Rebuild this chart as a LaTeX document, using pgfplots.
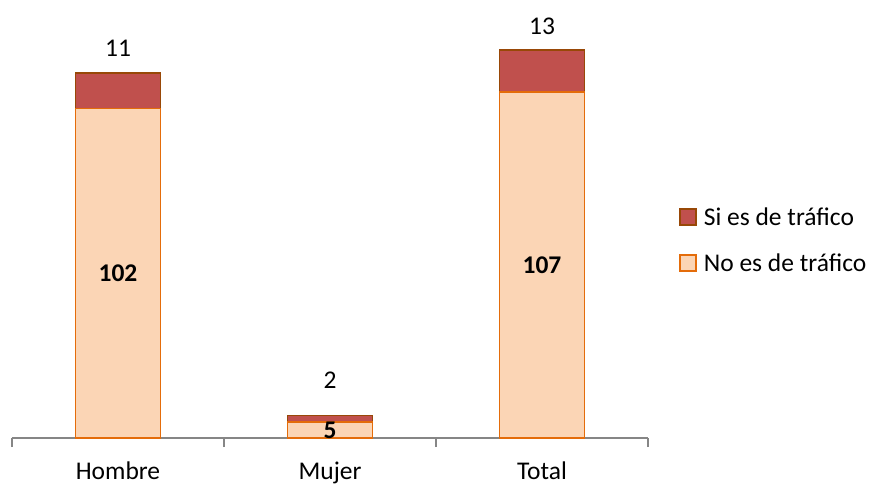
\documentclass[border=0pt]{standalone}
\usepackage{pgfplots}
\pgfplotsset{compat=1.18}
\usepackage{pgfplotstable}
\usepackage{fontspec}
\setmainfont{Carlito}
\usetikzlibrary{calc}

\definecolor{siFill}{HTML}{C0504D}
\definecolor{siLine}{HTML}{984807}
\definecolor{noFill}{HTML}{FBD5B5}
\definecolor{noLine}{HTML}{E46C0A}
\definecolor{ejeGris}{HTML}{868686}

\newcommand\chartfont{\fontsize{25.5}{30}\selectfont}

% x: categoria, no/si: casos, off: desplazamiento de la etiqueta superior
\pgfplotstableread{
x no si off
0 102 11 16
1 5 2 27
2 107 13 16
}\datos

\begin{document}
\begin{tikzpicture}
\begin{axis}[
    name=ax,
    scale only axis,
    width=636pt, height=404pt,
    xmin=-0.5, xmax=2.5,
    ymin=0, ymax=125,
    ybar stacked,
    bar width=85pt,
    axis x line*=bottom,
    axis y line=none,
    xtick={0,1,2},
    xticklabels={Hombre,Mujer,Total},
    minor xtick={-0.5,0.5,1.5,2.5},
    major tick length=0pt,
    minor tick length=9pt,
    tick align=outside,
    x axis line style={draw=ejeGris, line width=1.5pt},
    minor tick style={draw=ejeGris, line width=1.5pt},
    xticklabel style={font=\chartfont, anchor=base, yshift=-41pt},
    clip=false,
    legend reversed,
    legend style={at={(1.049,0.49)}, anchor=west, draw=none, fill=none,
        font=\chartfont, row sep=27pt, inner sep=0pt,
        nodes={inner sep=0pt, inner xsep=7pt, anchor=west}},
    legend cell align=left,
    legend image code/.code={\draw[#1, line width=1.5pt] (0pt,-8pt) rectangle (16pt,8pt);},
]
% las etiquetas de barras apiladas quedan centradas en su tramo
\addplot[fill=noFill, draw=noLine, line width=1.5pt,
    point meta=explicit symbolic,
    nodes near coords,
    every node near coord/.append style={font=\chartfont\bfseries, anchor=center},
] table[x=x, y=no, meta=no] {\datos};
\addlegendentry{No es de tráfico}
\addplot[fill=siFill, draw=siLine, line width=1.5pt,
    point meta=explicit symbolic,
    nodes near coords,
    visualization depends on=\thisrow{off} \as \off,
    visualization depends on=\thisrow{si} \as \siv,
    every node near coord/.append style={font=\chartfont, anchor=base,
        yshift=\off pt + 1.616pt*\siv},
] table[x=x, y=si, meta=si] {\datos};
\addlegendentry{Si es de tráfico}
\end{axis}
\pgfresetboundingbox
\path[use as bounding box] ($(ax.south west)+(-12pt,-47pt)$) rectangle ($(ax.south west)+(862pt,438pt)$);
\end{tikzpicture}
\end{document}
